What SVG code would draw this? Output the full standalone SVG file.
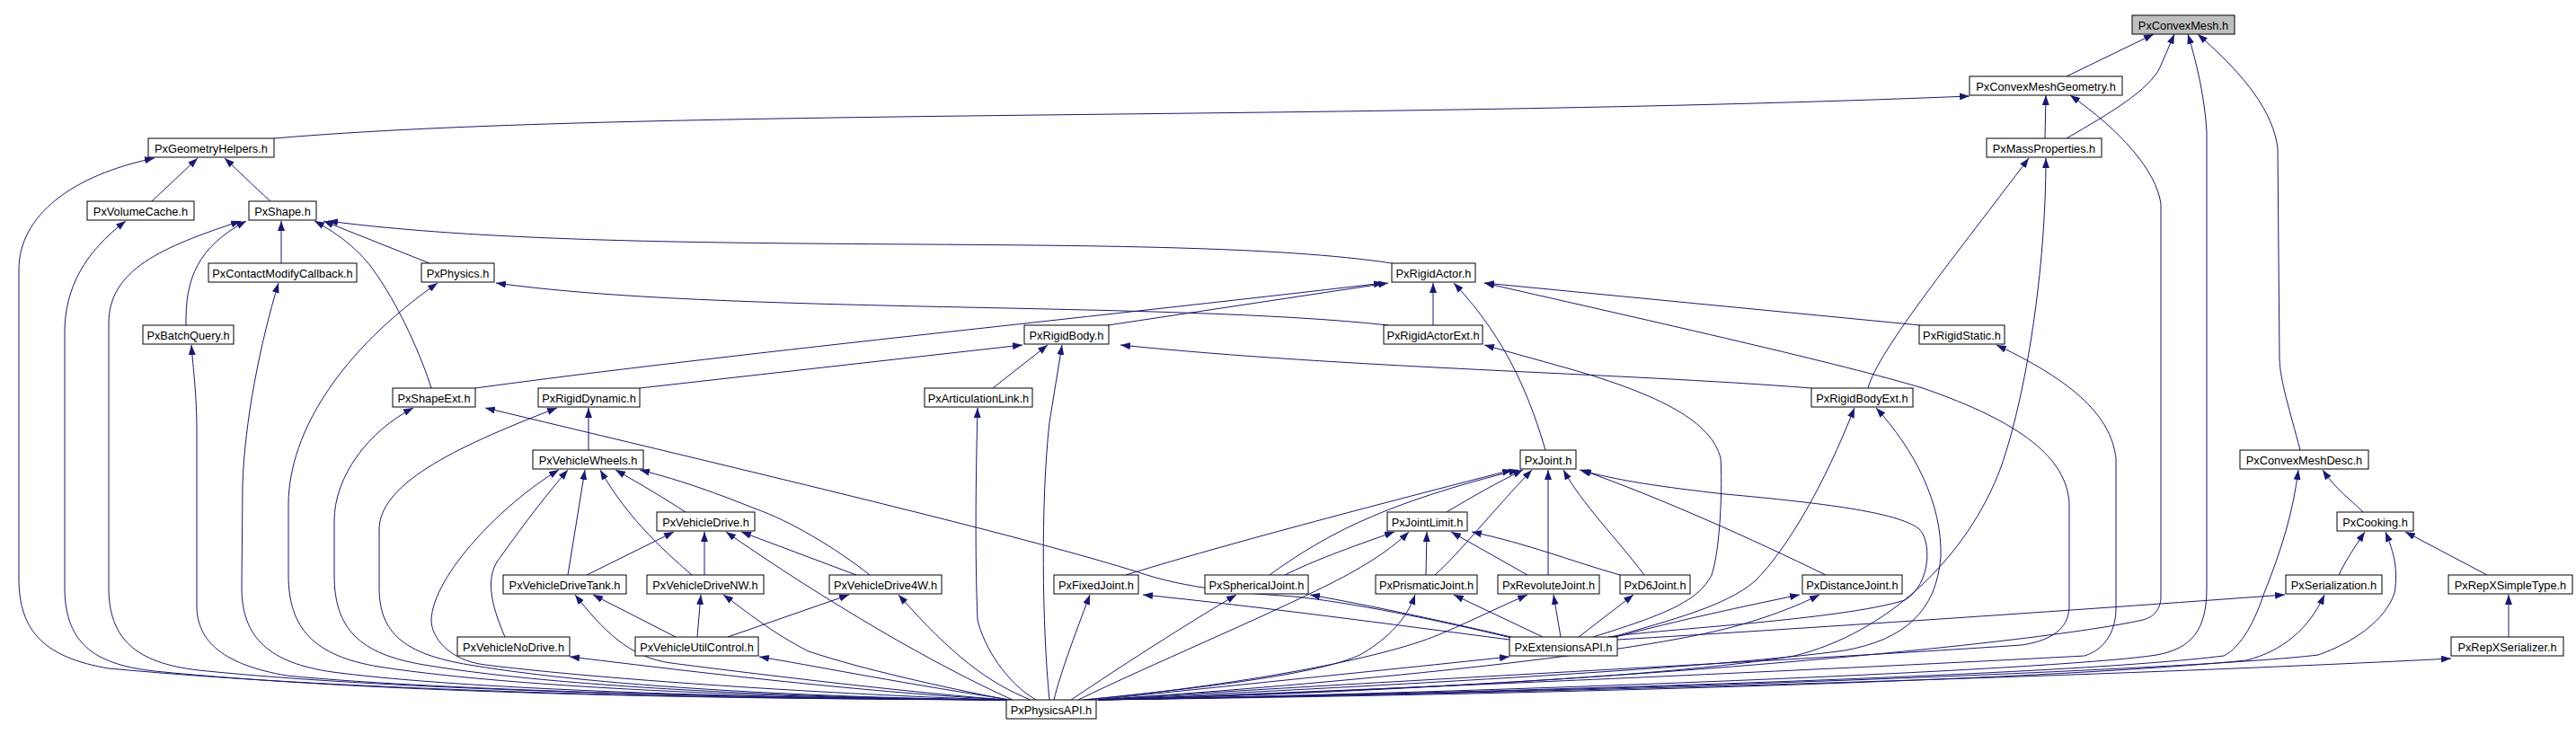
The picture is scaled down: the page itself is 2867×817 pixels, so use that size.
<svg xmlns="http://www.w3.org/2000/svg" width="2867" height="817" viewBox="0 0 2867 817">
<defs>
<marker id="ah" markerWidth="12" markerHeight="8" refX="11" refY="4" orient="auto" markerUnits="userSpaceOnUse">
<path d="M0,0 L11,4 L0,8 z" fill="#191970"/>
</marker>
<style>
.e{fill:none;stroke:#191970;stroke-width:1;marker-end:url(#ah)}
.n rect{fill:#ffffff;stroke:#000000;stroke-width:1}
.n text{font-family:"Liberation Sans",Arial,sans-serif;font-size:12.8px;text-anchor:middle;fill:#000000}
#n0 rect{fill:#bfbfbf}
</style>
</defs>
<rect width="2867" height="817" fill="#ffffff"/>
<g id="edges">
<path class="e" d="M2300,85 L2397,38"/>
<path class="e" d="M2300,154 C2350,125 2392,100 2404,75 L2420,38"/>
<path class="e" d="M1222,779 C1700,770 2300,745 2400,729 C2440,722 2456,700 2456,655 L2456,147 C2454,110 2445,70 2435,38"/>
<path class="e" d="M2560,501 C2548,455 2538,425 2537,400 L2535,165 C2530,125 2500,85 2446,38"/>
<path class="e" d="M1222,779 C1700,768 2250,720 2385,690 C2400,686 2405,675 2405,664 L2405,227 C2400,190 2360,145 2304,106"/>
<path class="e" d="M305,154 C700,120 1500,135 2192,107"/>
<path class="e" d="M2276,154 L2277,106"/>
<path class="e" d="M1120,779 C800,778 400,770 121,744 C51,732 21,704 21,644 L21,300 C21,240 80,195 172,176"/>
<path class="e" d="M1120,779 C800,778 420,772 172,747 C110,740 72,720 72,654 L72,370 C72,320 95,280 140,246"/>
<path class="e" d="M1120,779 C850,777 450,770 221,746 C150,738 121,710 121,654 L121,360 C121,300 180,275 268,246"/>
<path class="e" d="M1120,779 C900,778 500,770 319,752 C250,740 219,715 219,674 L219,480 C219,440 215,410 213,384"/>
<path class="e" d="M1120,779 C950,778 550,772 370,748 C300,738 269,710 269,654 L270,540 C272,470 290,380 310,315"/>
<path class="e" d="M1120,779 C950,778 600,770 421,742 C350,730 321,700 321,640 L321,560 C322,480 380,390 487,315"/>
<path class="e" d="M1120,779 C980,778 650,770 472,740 C400,728 372,700 372,640 L372,580 C372,530 410,480 460,454"/>
<path class="e" d="M1120,779 C1000,778 700,770 522,740 C450,728 422,705 422,654 L422,590 C422,540 500,500 620,454"/>
<path class="e" d="M655,501 L655,454"/>
<path class="e" d="M1120,779 C1000,776 700,760 540,740 C500,735 480,710 480,690 C482,640 560,560 622,523"/>
<path class="e" d="M562,709 C545,670 540,640 557,620 C575,595 600,560 632,523"/>
<path class="e" d="M632,640 L651,523"/>
<path class="e" d="M770,640 C745,618 700,580 668,523"/>
<path class="e" d="M763,570 C740,555 715,540 685,523"/>
<path class="e" d="M968,640 C930,610 880,580 840,566 C800,550 760,535 712,523"/>
<path class="e" d="M653,640 L750,592"/>
<path class="e" d="M784,640 L784,592"/>
<path class="e" d="M1127,779 C1040,740 920,670 808,592"/>
<path class="e" d="M953,640 L825,592"/>
<path class="e" d="M1120,779 C1000,770 800,745 747,738 C700,732 670,700 640,662"/>
<path class="e" d="M752,709 L660,662"/>
<path class="e" d="M776,709 L780,662"/>
<path class="e" d="M1122,779 C1050,765 960,745 900,725 C860,705 830,680 805,662"/>
<path class="e" d="M810,709 L945,662"/>
<path class="e" d="M1147,779 C1100,760 1060,730 1000,662"/>
<path class="e" d="M1122,779 C950,770 750,745 634,731"/>
<path class="e" d="M1125,779 C1000,760 900,740 845,731"/>
<path class="e" d="M478,293 L360,246"/>
<path class="e" d="M1549,293 C1300,255 700,290 365,246"/>
<path class="e" d="M313,293 L313,246"/>
<path class="e" d="M207,362 C206,310 220,275 274,246"/>
<path class="e" d="M480,432 C470,400 445,340 413,297 C400,280 380,262 350,246"/>
<path class="e" d="M169,224 L220,176"/>
<path class="e" d="M301,224 C280,205 265,190 250,176"/>
<path class="e" d="M1545,362 C1300,335 800,350 552,315"/>
<path class="e" d="M529,432 C800,395 1200,355 1540,315"/>
<path class="e" d="M712,432 L1138,384"/>
<path class="e" d="M1233,362 L1545,315"/>
<path class="e" d="M1105,432 L1166,384"/>
<path class="e" d="M1168,779 C1160,700 1158,560 1168,470 L1182,384"/>
<path class="e" d="M2016,432 C1800,415 1500,410 1247,384"/>
<path class="e" d="M2137,362 L1652,315"/>
<path class="e" d="M1222,779 C1500,760 2000,735 2250,718 C2290,712 2303,695 2303,674 L2303,560 C2300,510 2250,470 2140,432 C2050,405 1850,360 1652,315"/>
<path class="e" d="M1595,362 L1595,315"/>
<path class="e" d="M1720,501 C1705,450 1680,380 1618,315"/>
<path class="e" d="M1773,709 C1850,685 1890,670 1905,640 C1915,610 1917,540 1915,510 C1905,470 1850,440 1745,410 L1652,384"/>
<path class="e" d="M2079,432 C2090,390 2180,280 2258,176"/>
<path class="e" d="M1222,779 C1500,770 1850,755 1997,730 C2100,705 2190,620 2227,520 C2255,440 2277,300 2277,176"/>
<path class="e" d="M1795,709 C1860,690 1920,675 1953,647 C1990,610 2030,540 2064,454"/>
<path class="e" d="M1222,779 C1500,765 1900,745 2053,724 C2120,712 2155,680 2160,620 C2162,560 2130,500 2088,454"/>
<path class="e" d="M1222,779 C1600,765 2100,742 2320,730 C2345,722 2355,700 2355,677 L2355,510 C2350,470 2320,430 2222,384"/>
<path class="e" d="M1222,779 C1700,770 2300,752 2475,730 C2495,720 2510,690 2520,660 C2540,610 2552,570 2558,523"/>
<path class="e" d="M2630,570 C2615,555 2600,545 2585,523"/>
<path class="e" d="M2603,640 C2610,625 2620,610 2632,592"/>
<path class="e" d="M1222,779 C1800,770 2450,745 2580,729 C2620,715 2655,690 2665,660 C2670,630 2662,610 2655,592"/>
<path class="e" d="M2768,640 L2677,592"/>
<path class="e" d="M1800,712 C2000,700 2300,680 2543,662"/>
<path class="e" d="M1222,779 C1800,772 2300,755 2500,735 C2540,725 2570,700 2587,662"/>
<path class="e" d="M2792,709 L2792,662"/>
<path class="e" d="M1222,779 C1800,770 2400,750 2728,733"/>
<path class="e" d="M1253,640 C1350,610 1500,570 1683,523"/>
<path class="e" d="M1413,640 C1440,620 1480,595 1520,578 C1560,560 1620,540 1690,523"/>
<path class="e" d="M1610,570 C1640,552 1665,538 1695,523"/>
<path class="e" d="M1597,640 C1625,615 1660,570 1705,523"/>
<path class="e" d="M1723,640 L1723,523"/>
<path class="e" d="M1830,640 C1800,600 1760,560 1740,523"/>
<path class="e" d="M2032,640 C1950,600 1850,555 1760,523"/>
<path class="e" d="M1790,709 C1850,700 2050,690 2120,668 C2150,650 2150,600 2135,588 C2110,570 2030,560 1920,550 C1850,542 1800,535 1758,523"/>
<path class="e" d="M1430,640 C1460,625 1500,610 1552,592"/>
<path class="e" d="M1200,779 C1280,740 1400,690 1480,650 C1520,630 1550,610 1568,592"/>
<path class="e" d="M1587,640 L1588,592"/>
<path class="e" d="M1700,640 L1615,592"/>
<path class="e" d="M1803,640 C1750,625 1700,605 1638,592"/>
<path class="e" d="M1680,712 C1550,695 1400,675 1272,662"/>
<path class="e" d="M1173,779 C1180,750 1195,710 1213,662"/>
<path class="e" d="M1192,779 C1250,740 1320,695 1376,662"/>
<path class="e" d="M1682,709 C1600,690 1530,675 1458,662"/>
<path class="e" d="M1205,779 C1350,765 1480,748 1517,727 C1545,710 1565,690 1575,662"/>
<path class="e" d="M1717,709 L1618,662"/>
<path class="e" d="M1210,779 C1400,760 1550,730 1607,704 C1640,690 1670,675 1700,662"/>
<path class="e" d="M1737,709 L1729,662"/>
<path class="e" d="M1757,709 L1818,662"/>
<path class="e" d="M1798,709 C1870,690 1940,675 2003,662"/>
<path class="e" d="M1222,779 C1500,760 1800,730 1920,700 C1960,690 2000,675 2025,662"/>
<path class="e" d="M1220,779 C1400,760 1550,745 1680,731"/>
<path class="e" d="M1682,710 C1600,690 1500,670 1440,664 C1380,660 1320,655 1267,637 C1150,600 900,540 540,454"/>
<path class="e" d="M1153,779 C1120,760 1095,720 1088,690 C1085,620 1086,530 1088,454"/>
</g>
<g id="n0" class="n"><rect x="2373" y="17" width="114" height="21"/><text x="2430" y="33">PxConvexMesh.h</text></g>
<g id="n1" class="n"><rect x="2192" y="85" width="170" height="21"/><text x="2277" y="101">PxConvexMeshGeometry.h</text></g>
<g id="n2" class="n"><rect x="165" y="154" width="140" height="21"/><text x="235" y="170">PxGeometryHelpers.h</text></g>
<g id="n3" class="n"><rect x="2211" y="154" width="128" height="21"/><text x="2275" y="170">PxMassProperties.h</text></g>
<g id="n4" class="n"><rect x="97" y="224" width="119" height="21"/><text x="156.5" y="240">PxVolumeCache.h</text></g>
<g id="n5" class="n"><rect x="277" y="224" width="75" height="21"/><text x="314.5" y="240">PxShape.h</text></g>
<g id="n6" class="n"><rect x="232" y="293" width="165" height="21"/><text x="314.5" y="309">PxContactModifyCallback.h</text></g>
<g id="n7" class="n"><rect x="469" y="293" width="81" height="21"/><text x="509.5" y="309">PxPhysics.h</text></g>
<g id="n8" class="n"><rect x="1549" y="293" width="93" height="21"/><text x="1595.5" y="309">PxRigidActor.h</text></g>
<g id="n9" class="n"><rect x="159" y="362" width="101" height="21"/><text x="209.5" y="378">PxBatchQuery.h</text></g>
<g id="n10" class="n"><rect x="1140" y="362" width="94" height="21"/><text x="1187" y="378">PxRigidBody.h</text></g>
<g id="n11" class="n"><rect x="1540" y="362" width="110" height="21"/><text x="1595" y="378">PxRigidActorExt.h</text></g>
<g id="n12" class="n"><rect x="2136" y="362" width="95" height="21"/><text x="2183.5" y="378">PxRigidStatic.h</text></g>
<g id="n13" class="n"><rect x="437" y="432" width="92" height="21"/><text x="483" y="448">PxShapeExt.h</text></g>
<g id="n14" class="n"><rect x="599" y="432" width="113" height="21"/><text x="655.5" y="448">PxRigidDynamic.h</text></g>
<g id="n15" class="n"><rect x="1029" y="432" width="120" height="21"/><text x="1089" y="448">PxArticulationLink.h</text></g>
<g id="n16" class="n"><rect x="2016" y="432" width="113" height="21"/><text x="2072.5" y="448">PxRigidBodyExt.h</text></g>
<g id="n17" class="n"><rect x="593" y="501" width="123" height="21"/><text x="654.5" y="517">PxVehicleWheels.h</text></g>
<g id="n18" class="n"><rect x="1692" y="501" width="62" height="21"/><text x="1723" y="517">PxJoint.h</text></g>
<g id="n19" class="n"><rect x="2493" y="501" width="143" height="21"/><text x="2564.5" y="517">PxConvexMeshDesc.h</text></g>
<g id="n20" class="n"><rect x="731" y="570" width="109" height="21"/><text x="785.5" y="586">PxVehicleDrive.h</text></g>
<g id="n21" class="n"><rect x="1544" y="570" width="89" height="21"/><text x="1588.5" y="586">PxJointLimit.h</text></g>
<g id="n22" class="n"><rect x="2601" y="570" width="85" height="21"/><text x="2643.5" y="586">PxCooking.h</text></g>
<g id="n23" class="n"><rect x="560" y="640" width="137" height="21"/><text x="628.5" y="656">PxVehicleDriveTank.h</text></g>
<g id="n24" class="n"><rect x="720" y="640" width="130" height="21"/><text x="785" y="656">PxVehicleDriveNW.h</text></g>
<g id="n25" class="n"><rect x="923" y="640" width="125" height="21"/><text x="985.5" y="656">PxVehicleDrive4W.h</text></g>
<g id="n26" class="n"><rect x="1173" y="640" width="94" height="21"/><text x="1220" y="656">PxFixedJoint.h</text></g>
<g id="n27" class="n"><rect x="1341" y="640" width="115" height="21"/><text x="1398.5" y="656">PxSphericalJoint.h</text></g>
<g id="n28" class="n"><rect x="1531" y="640" width="113" height="21"/><text x="1587.5" y="656">PxPrismaticJoint.h</text></g>
<g id="n29" class="n"><rect x="1667" y="640" width="113" height="21"/><text x="1723.5" y="656">PxRevoluteJoint.h</text></g>
<g id="n30" class="n"><rect x="1803" y="640" width="78" height="21"/><text x="1842" y="656">PxD6Joint.h</text></g>
<g id="n31" class="n"><rect x="2006" y="640" width="111" height="21"/><text x="2061.5" y="656">PxDistanceJoint.h</text></g>
<g id="n32" class="n"><rect x="2544" y="640" width="107" height="21"/><text x="2597.5" y="656">PxSerialization.h</text></g>
<g id="n33" class="n"><rect x="2725" y="640" width="138" height="21"/><text x="2794" y="656">PxRepXSimpleType.h</text></g>
<g id="n34" class="n"><rect x="509" y="709" width="125" height="21"/><text x="571.5" y="725">PxVehicleNoDrive.h</text></g>
<g id="n35" class="n"><rect x="707" y="709" width="137" height="21"/><text x="775.5" y="725">PxVehicleUtilControl.h</text></g>
<g id="n36" class="n"><rect x="1680" y="709" width="120" height="21"/><text x="1740" y="725">PxExtensionsAPI.h</text></g>
<g id="n37" class="n"><rect x="2728" y="709" width="125" height="21"/><text x="2790.5" y="725">PxRepXSerializer.h</text></g>
<g id="n38" class="n"><rect x="1120" y="779" width="100" height="21"/><text x="1170" y="795">PxPhysicsAPI.h</text></g>
</svg>
